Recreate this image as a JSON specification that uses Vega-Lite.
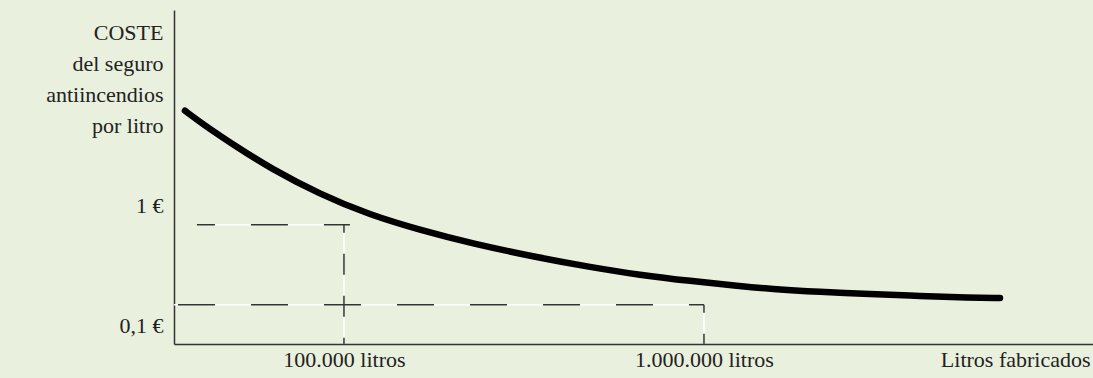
{
  "$schema": "https://vega.github.io/schema/vega-lite/v6.json",
  "width": 919,
  "height": 334,
  "autosize": {"type": "none"},
  "padding": {"left": 174, "top": 10, "right": 0, "bottom": 34},
  "background": "#e9f0dd",
  "config": {
    "view": {"stroke": null},
    "font": "Liberation Serif",
    "axis": {"labelFont": "Liberation Serif", "titleFont": "Liberation Serif"}
  },
  "datasets": {
    "curve": [
      {"litros": 36170, "coste": 6.223},
      {"litros": 40580, "coste": 4.8},
      {"litros": 50440, "coste": 3.1},
      {"litros": 62280, "coste": 2.074},
      {"litros": 85770, "coste": 1.25},
      {"litros": 118100, "coste": 0.8414},
      {"litros": 162600, "coste": 0.631},
      {"litros": 223900, "coste": 0.4912},
      {"litros": 350300, "coste": 0.3687},
      {"litros": 482500, "coste": 0.3102},
      {"litros": 664200, "coste": 0.2661},
      {"litros": 914600, "coste": 0.2371},
      {"litros": 1259000, "coste": 0.2154},
      {"litros": 1526000, "coste": 0.2034},
      {"litros": 2100000, "coste": 0.192},
      {"litros": 2892000, "coste": 0.1848},
      {"litros": 3981000, "coste": 0.1778},
      {"litros": 5481000, "coste": 0.1721},
      {"litros": 6642000, "coste": 0.1711}
    ],
    "guides": [
      {"seg": "h1", "litros": 39050, "litros2": 103900, "coste": 0.6986, "coste2": 0.6986},
      {"seg": "v1", "litros": 100000, "litros2": 100000, "coste": 0.6986, "coste2": 0.07079},
      {"seg": "h2", "litros": 33720, "litros2": 1000000, "coste": 0.1505, "coste2": 0.1505},
      {"seg": "v2", "litros": 1000000, "litros2": 1000000, "coste": 0.1505, "coste2": 0.07079}
    ]
  },
  "encoding": {
    "x": {
      "field": "litros",
      "type": "quantitative",
      "scale": {"type": "log", "domain": [33720, 12040000], "nice": false, "zero": false},
      "axis": {
        "values": [100000, 1000000],
        "labelExpr": "datum.value == 100000 ? '100.000 litros' : '1.000.000 litros'",
        "grid": false,
        "ticks": false,
        "tickSize": 0,
        "domainColor": "#333333",
        "domainWidth": 1.5,
        "labelColor": "#222222",
        "labelFontSize": 22,
        "labelBaseline": "top",
        "labelPadding": 5,
        "labelFlush": false,
        "labelOverlap": false,
        "title": "Litros fabricados",
        "titleFontSize": 22,
        "titleFontWeight": "normal",
        "titleColor": "#222222",
        "titleAlign": "right",
        "titleBaseline": "top",
        "titleX": 916,
        "titleY": 5
      }
    },
    "y": {
      "field": "coste",
      "type": "quantitative",
      "scale": {"type": "log", "domain": [0.07079, 42.99], "nice": false, "zero": false},
      "axis": {
        "values": [0.1, 1],
        "labelExpr": "datum.value >= 0.5 ? '1 €' : '0,1 €'",
        "grid": false,
        "ticks": false,
        "tickSize": 0,
        "domainColor": "#333333",
        "domainWidth": 1.5,
        "labelColor": "#222222",
        "labelFontSize": 22,
        "labelPadding": 11,
        "labelOverlap": false,
        "labelFlush": false,
        "title": ["COSTE", "del seguro", "antiincendios", "por litro"],
        "titleFontSize": 22,
        "titleFontWeight": "normal",
        "titleColor": "#222222",
        "titleAngle": 0,
        "titleAlign": "right",
        "titleBaseline": "alphabetic",
        "titleLineHeight": 31.3,
        "titleX": -11,
        "titleY": 29
      }
    }
  },
  "layer": [
    {
      "data": {"name": "guides"},
      "mark": {"type": "rule", "color": "#ffffff", "strokeWidth": 1.5},
      "encoding": {
        "x2": {"field": "litros2"},
        "y2": {"field": "coste2"}
      }
    },
    {
      "data": {"name": "guides"},
      "transform": [{"filter": "datum.seg == 'h2'"}],
      "mark": {"type": "rule", "color": "#333333", "strokeWidth": 1.5, "strokeDash": [37, 36], "strokeDashOffset": 69},
      "encoding": {
        "x2": {"field": "litros2"},
        "y2": {"field": "coste2"}
      }
    },
    {
      "data": {"name": "guides"},
      "transform": [{"filter": "datum.seg == 'h1'"}],
      "mark": {"type": "rule", "color": "#333333", "strokeWidth": 1.5, "strokeDash": [37, 36], "strokeDashOffset": 19},
      "encoding": {
        "x2": {"field": "litros2"},
        "y2": {"field": "coste2"}
      }
    },
    {
      "data": {"name": "guides"},
      "transform": [{"filter": "datum.seg == 'v1' || datum.seg == 'v2'"}],
      "mark": {"type": "rule", "color": "#333333", "strokeWidth": 1.5, "strokeDash": [21, 21], "strokeDashOffset": 13},
      "encoding": {
        "x2": {"field": "litros2"},
        "y2": {"field": "coste2"}
      }
    },
    {
      "data": {"name": "curve"},
      "mark": {"type": "line", "color": "#000000", "strokeWidth": 6.5, "strokeCap": "round", "interpolate": "basis"},
      "encoding": {}
    }
  ]
}
